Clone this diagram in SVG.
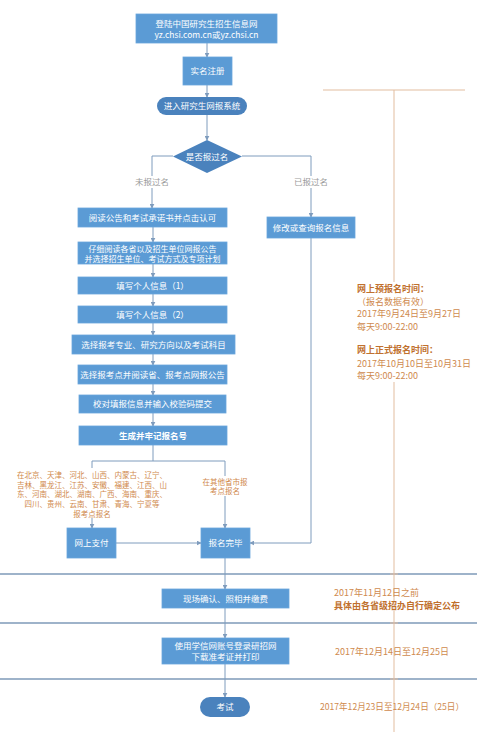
<svg xmlns="http://www.w3.org/2000/svg" width="477" height="732" viewBox="0 0 477 732">
<defs>
<marker id="ah" viewBox="0 0 8 8" refX="7" refY="4" markerWidth="5" markerHeight="5" orient="auto" markerUnits="userSpaceOnUse">
<path d="M0,0 L8,4 L0,8 z" fill="#7f9cbd"/>
</marker>
<style>
text{font-family:"Noto Sans CJK SC","Liberation Sans",sans-serif;}
.box{fill:#5b9bd5;stroke:#6aa6dc;stroke-width:0.8;}
.dark{fill:#4a82bd;}
.wt{fill:#ffffff;font-size:8.5px;text-anchor:middle;}
.b{font-weight:bold;}
.lab{fill:#9a9a9a;font-size:8.5px;text-anchor:middle;}
.or{fill:#cf8a4e;font-size:9px;}
.orb{fill:#c0702e;font-size:9px;font-weight:bold;}
.orc{fill:#d0894c;font-size:7.5px;text-anchor:middle;}
.cn{fill:none;stroke:#7f9cbd;stroke-width:1;}
.sep{stroke:#7e9ab8;stroke-width:1.3;}
.tl{stroke:#e2bd9f;stroke-width:1;}
.tk{stroke:#e2bd9f;stroke-width:1;}
</style>
</defs>
<rect width="477" height="732" fill="#ffffff"/>

<g id="timeline">
<line class="sep" x1="0" y1="574" x2="477" y2="574"/>
<line class="sep" x1="0" y1="623" x2="477" y2="623"/>
<line class="sep" x1="0" y1="679" x2="477" y2="679"/>
<line class="tl" x1="323" y1="90" x2="465" y2="90"/>
<line class="tl" x1="394" y1="90" x2="394" y2="732"/>
<line class="tk" x1="390" y1="574" x2="398" y2="574"/>
<line class="tk" x1="390" y1="623" x2="398" y2="623"/>
<line class="tk" x1="390" y1="679" x2="398" y2="679"/>
<rect x="352" y="282" width="120" height="100" fill="#ffffff"/>
</g>

<g id="connectors">
<line class="cn" x1="207" y1="43" x2="207" y2="57" marker-end="url(#ah)"/>
<line class="cn" x1="207" y1="85" x2="207" y2="97" marker-end="url(#ah)"/>
<line class="cn" x1="207" y1="115" x2="207" y2="140" marker-end="url(#ah)"/>
<polyline class="cn" points="173,156 152,156 152,208" marker-end="url(#ah)"/>
<polyline class="cn" points="242,156 311,156 311,217" marker-end="url(#ah)"/>
<line class="cn" x1="153" y1="227" x2="153" y2="242" marker-end="url(#ah)"/>
<line class="cn" x1="153" y1="264" x2="153" y2="277" marker-end="url(#ah)"/>
<line class="cn" x1="153" y1="294" x2="153" y2="306" marker-end="url(#ah)"/>
<line class="cn" x1="153" y1="323" x2="153" y2="335" marker-end="url(#ah)"/>
<line class="cn" x1="153" y1="354" x2="153" y2="365" marker-end="url(#ah)"/>
<line class="cn" x1="153" y1="384" x2="153" y2="395" marker-end="url(#ah)"/>
<line class="cn" x1="153" y1="413" x2="153" y2="426" marker-end="url(#ah)"/>
<polyline class="cn" points="153,445 153,461"/>
<polyline class="cn" points="92,461 225,461"/>
<line class="cn" x1="92" y1="461" x2="92" y2="528" marker-end="url(#ah)"/>
<line class="cn" x1="225" y1="461" x2="225" y2="528" marker-end="url(#ah)"/>
<line class="cn" x1="116" y1="543" x2="201" y2="543" marker-end="url(#ah)"/>
<polyline class="cn" points="311,238 311,543 250,543" marker-end="url(#ah)"/>
<line class="cn" x1="225" y1="558" x2="225" y2="589" marker-end="url(#ah)"/>
<line class="cn" x1="225" y1="608" x2="225" y2="638" marker-end="url(#ah)"/>
<line class="cn" x1="225" y1="664" x2="225" y2="697" marker-end="url(#ah)"/>
<rect x="134" y="176" width="36" height="12" fill="#ffffff"/>
<text class="lab" x="152" y="185">未报过名</text>
<rect x="293" y="176" width="36" height="12" fill="#ffffff"/>
<text class="lab" x="311" y="185">已报过名</text>
</g>

<g id="n-login">
<rect class="box" x="136" y="14" width="141" height="29"/>
<text class="wt" x="206.5" y="27">登陆中国研究生招生信息网<tspan x="206.5" y="38">yz.chsi.com.cn或yz.chsi.cn</tspan></text>
</g>
<g id="n-register">
<rect class="box" x="183" y="57" width="49" height="28"/>
<text class="wt" x="207.5" y="74">实名注册</text>
</g>
<g id="n-system">
<rect class="dark" x="157" y="97" width="90" height="18" rx="9"/>
<text class="wt" x="202" y="109">进入研究生网报系统</text>
</g>
<g id="n-decision">
<polygon class="dark" points="207,140 242,156.5 207,173 173,156.5"/>
<text class="wt" x="207" y="159.5">是否报过名</text>
</g>
<g id="n-read">
<rect class="box" x="78" y="208" width="149" height="19"/>
<text class="wt" x="152.5" y="220.5">阅读公告和考试承诺书并点击认可</text>
</g>
<g id="n-modify">
<rect class="box" x="267" y="217" width="88" height="21"/>
<text class="wt" x="311" y="230.5">修改或查询报名信息</text>
</g>
<g id="n-choose-unit">
<rect class="box" x="78" y="242" width="149" height="22"/>
<text class="wt" x="152.5" y="251.5" style="font-size:8px">仔细阅读各省以及招生单位网报公告<tspan x="152.5" y="261.5">并选择招生单位、考试方式及专项计划</tspan></text>
</g>
<g id="n-info1">
<rect class="box" x="78" y="277" width="149" height="17"/>
<text class="wt" x="152.5" y="288.5">填写个人信息（1）</text>
</g>
<g id="n-info2">
<rect class="box" x="78" y="306" width="149" height="17"/>
<text class="wt" x="152.5" y="317.5">填写个人信息（2）</text>
</g>
<g id="n-major">
<rect class="box" x="72" y="335" width="163" height="19"/>
<text class="wt" x="153.5" y="347.5">选择报考专业、研究方向以及考试科目</text>
</g>
<g id="n-site">
<rect class="box" x="78" y="365" width="149" height="19"/>
<text class="wt" x="152.5" y="377.5">选择报考点并阅读省、报考点网报公告</text>
</g>
<g id="n-check">
<rect class="box" x="79" y="395" width="147" height="18"/>
<text class="wt" x="152.5" y="407">校对填报信息并输入校验码提交</text>
</g>
<g id="n-number">
<rect class="box" x="79" y="426" width="148" height="19"/>
<text class="wt b" x="153" y="438.5">生成并牢记报名号</text>
</g>
<g id="n-note-left">
<rect x="16" y="468" width="154" height="50" fill="#ffffff"/>
<text class="orc" x="92" y="478">在北京、天津、河北、山西、内蒙古、辽宁、<tspan x="92" y="487.5">吉林、黑龙江、江苏、安徽、福建、江西、山</tspan><tspan x="92" y="497">东、河南、湖北、湖南、广西、海南、重庆、</tspan><tspan x="92" y="506.5">四川、贵州、云南、甘肃、青海、宁夏等</tspan><tspan x="92" y="517">报考点报名</tspan></text>
</g>
<g id="n-note-right">
<rect x="200" y="476" width="50" height="20" fill="#ffffff"/>
<text class="orc" x="225" y="484.5">在其他省市报<tspan x="225" y="494">考点报名</tspan></text>
</g>
<g id="n-pay">
<rect class="box" x="67" y="528" width="49" height="30"/>
<text class="wt" x="91.5" y="546">网上支付</text>
</g>
<g id="n-done">
<rect class="box" x="201" y="528" width="49" height="30"/>
<text class="wt" x="225.5" y="546">报名完毕</text>
</g>
<g id="n-confirm">
<rect class="box" x="162" y="589" width="127" height="19"/>
<text class="wt" x="225.5" y="601.5">现场确认、照相并缴费</text>
</g>
<g id="n-admit">
<rect class="box" x="162" y="638" width="127" height="26"/>
<text class="wt" x="225.5" y="649">使用学信网账号登录研招网<tspan x="225.5" y="659.5">下载准考证并打印</tspan></text>
</g>
<g id="n-exam">
<rect class="dark" x="200" y="697" width="50" height="20" rx="10"/>
<text class="wt" x="225" y="710">考试</text>
</g>

<g id="annotations">
<text class="or" x="357" y="292"><tspan class="orb">网上预报名时间：</tspan><tspan x="357" y="305">（报名数据有效）</tspan><tspan x="357" y="317">2017年9月24日至9月27日</tspan><tspan x="357" y="329.5">每天9:00-22:00</tspan></text>
<text class="or" x="357" y="353"><tspan class="orb">网上正式报名时间：</tspan><tspan x="357" y="367">2017年10月10日至10月31日</tspan><tspan x="357" y="379">每天9:00-22:00</tspan></text>
<text class="or" x="334" y="596">2017年11月12日之前<tspan class="orb" x="334" y="609">具体由各省级招办自行确定公布</tspan></text>
<text class="or" x="392" y="655" text-anchor="middle">2017年12月14日至12月25日</text>
<text class="or" x="392" y="710" text-anchor="middle" style="font-size:8.6px">2017年12月23日至12月24日（25日）</text>
</g>
</svg>
